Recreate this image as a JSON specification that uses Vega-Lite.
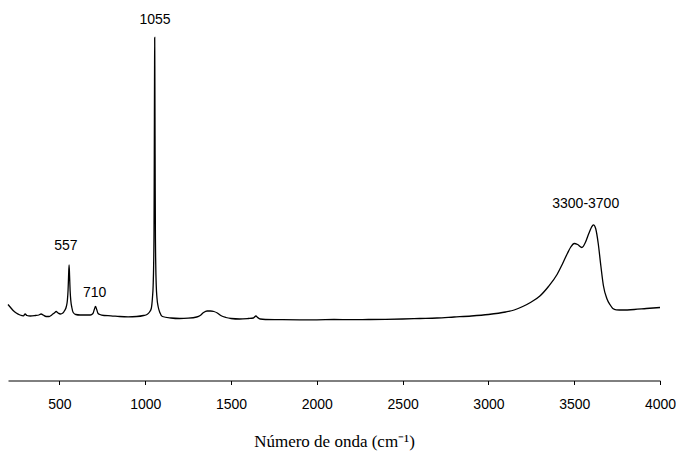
{
  "$schema": "https://vega.github.io/schema/vega-lite/v6.json",
  "width": 652,
  "height": 380,
  "autosize": {"type": "none"},
  "padding": {"left": 8, "top": 0.5, "right": 16, "bottom": 70.5},
  "config": {"view": {"stroke": null}, "font": "Liberation Sans"},
  "layer": [
    {
      "data": {"values": [
        {"w": 200, "i": 76}, {"w": 215, "i": 73}, {"w": 230, "i": 70}, {"w": 248, "i": 67.5}, {"w": 270, "i": 65.5},
        {"w": 290, "i": 64.7}, {"w": 300, "i": 66.5}, {"w": 310, "i": 65}, {"w": 330, "i": 64.5}, {"w": 360, "i": 65},
        {"w": 380, "i": 65.5}, {"w": 393, "i": 66.5}, {"w": 405, "i": 65.5}, {"w": 422, "i": 64}, {"w": 440, "i": 64},
        {"w": 455, "i": 65.5}, {"w": 470, "i": 67.5}, {"w": 481, "i": 69}, {"w": 492, "i": 67.5}, {"w": 505, "i": 66.5},
        {"w": 520, "i": 67.5}, {"w": 530, "i": 70}, {"w": 540, "i": 74}, {"w": 546, "i": 80}, {"w": 550, "i": 90},
        {"w": 553, "i": 104}, {"w": 556, "i": 115.7}, {"w": 559, "i": 104}, {"w": 562, "i": 90}, {"w": 566, "i": 80},
        {"w": 572, "i": 73}, {"w": 580, "i": 68}, {"w": 595, "i": 66}, {"w": 620, "i": 65.5}, {"w": 650, "i": 65.5},
        {"w": 680, "i": 65.5}, {"w": 695, "i": 67}, {"w": 703, "i": 71}, {"w": 710, "i": 74}, {"w": 717, "i": 71},
        {"w": 725, "i": 67}, {"w": 735, "i": 66}, {"w": 760, "i": 65}, {"w": 800, "i": 64.7}, {"w": 850, "i": 64},
        {"w": 900, "i": 63.7}, {"w": 950, "i": 64}, {"w": 990, "i": 65}, {"w": 1010, "i": 66}, {"w": 1025, "i": 68.5},
        {"w": 1035, "i": 72}, {"w": 1042, "i": 83}, {"w": 1046, "i": 95}, {"w": 1049, "i": 117}, {"w": 1051, "i": 150},
        {"w": 1052, "i": 190}, {"w": 1053, "i": 245}, {"w": 1054, "i": 300}, {"w": 1055, "i": 343}, {"w": 1056, "i": 300},
        {"w": 1057, "i": 245}, {"w": 1058, "i": 190}, {"w": 1059, "i": 150}, {"w": 1061, "i": 117}, {"w": 1064, "i": 95},
        {"w": 1068, "i": 83}, {"w": 1075, "i": 74}, {"w": 1085, "i": 68}, {"w": 1100, "i": 64}, {"w": 1150, "i": 62.5},
        {"w": 1200, "i": 62}, {"w": 1250, "i": 62.3}, {"w": 1300, "i": 63.5}, {"w": 1320, "i": 65}, {"w": 1340, "i": 68},
        {"w": 1360, "i": 69.5}, {"w": 1380, "i": 69.5}, {"w": 1400, "i": 69}, {"w": 1420, "i": 67.5}, {"w": 1440, "i": 65},
        {"w": 1470, "i": 63}, {"w": 1500, "i": 62}, {"w": 1550, "i": 61.5}, {"w": 1600, "i": 62}, {"w": 1630, "i": 62.5},
        {"w": 1645, "i": 64.5}, {"w": 1655, "i": 63}, {"w": 1670, "i": 61.5}, {"w": 1700, "i": 61}, {"w": 1800, "i": 60.8},
        {"w": 1900, "i": 60.7}, {"w": 2000, "i": 60.7}, {"w": 2100, "i": 61}, {"w": 2200, "i": 60.8}, {"w": 2300, "i": 61},
        {"w": 2400, "i": 61.2}, {"w": 2500, "i": 61.5}, {"w": 2600, "i": 62}, {"w": 2700, "i": 62.5}, {"w": 2800, "i": 63.5},
        {"w": 2900, "i": 64.5}, {"w": 3000, "i": 66}, {"w": 3100, "i": 68.5}, {"w": 3150, "i": 70.5}, {"w": 3200, "i": 74},
        {"w": 3250, "i": 78.5}, {"w": 3300, "i": 84.5}, {"w": 3350, "i": 94}, {"w": 3400, "i": 106}, {"w": 3430, "i": 116},
        {"w": 3460, "i": 127}, {"w": 3480, "i": 133.5}, {"w": 3500, "i": 137}, {"w": 3520, "i": 136}, {"w": 3545, "i": 133},
        {"w": 3565, "i": 138}, {"w": 3585, "i": 147}, {"w": 3600, "i": 153}, {"w": 3612, "i": 155.7}, {"w": 3625, "i": 152},
        {"w": 3640, "i": 137}, {"w": 3655, "i": 115}, {"w": 3670, "i": 95}, {"w": 3690, "i": 82}, {"w": 3710, "i": 75.5},
        {"w": 3725, "i": 72}, {"w": 3745, "i": 70.7}, {"w": 3780, "i": 70.5}, {"w": 3850, "i": 71}, {"w": 3920, "i": 72},
        {"w": 4000, "i": 73}
      ]},
      "mark": {"type": "line", "color": "black", "strokeWidth": 1.3, "interpolate": "monotone"},
      "encoding": {
        "x": {
          "field": "w", "type": "quantitative",
          "scale": {"domain": [200, 4000], "nice": false, "zero": false},
          "axis": {
            "title": "Número de onda (cm⁻¹)",
            "values": [500, 1000, 1500, 2000, 2500, 3000, 3500, 4000],
            "format": "d",
            "grid": false,
            "domainColor": "black", "domainWidth": 1,
            "tickColor": "black", "tickSize": 4, "tickWidth": 1,
            "labelFont": "Liberation Sans", "labelFontSize": 14, "labelColor": "black",
            "labelPadding": 13, "labelFlush": false, "labelOverlap": false,
            "titleFont": "Liberation Serif", "titleFontSize": 17, "titleFontWeight": "normal",
            "titleColor": "black", "titleBaseline": "alphabetic", "titleY": 66
          }
        },
        "y": {
          "field": "i", "type": "quantitative",
          "scale": {"domain": [0, 380], "nice": false, "zero": false},
          "axis": null
        }
      }
    },
    {
      "data": {"values": [
        {"w": 1057, "i": 361, "label": "1055"},
        {"w": 537, "i": 135, "label": "557"},
        {"w": 705, "i": 88, "label": "710"},
        {"w": 3567, "i": 176.7, "label": "3300-3700"}
      ]},
      "mark": {"type": "text", "font": "Liberation Sans", "fontSize": 14, "color": "black", "baseline": "middle", "align": "center"},
      "encoding": {
        "x": {"field": "w", "type": "quantitative"},
        "y": {"field": "i", "type": "quantitative"},
        "text": {"field": "label"}
      }
    }
  ]
}
